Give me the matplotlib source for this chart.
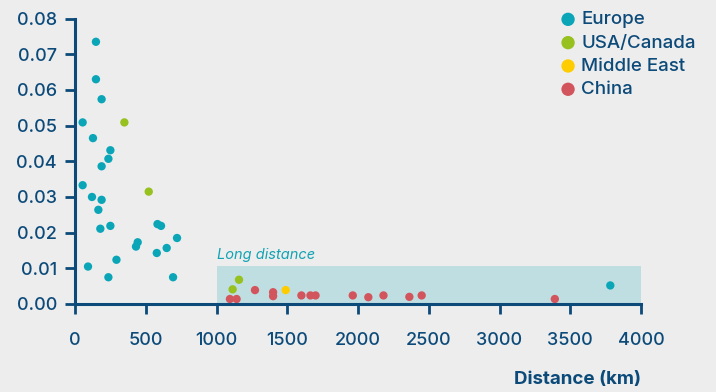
import matplotlib
matplotlib.use("Agg")
import matplotlib.pyplot as plt
from matplotlib.patches import Rectangle

plt.rcParams['font.family'] = ['Inter', 'DejaVu Sans']

europe_x = [148, 148, 188, 54, 127, 250, 236, 188, 54, 120, 188, 165, 179, 250, 583, 608,
            721, 443, 431, 648, 578, 293, 92, 236, 693, 3783]
europe_y = [0.0735, 0.0630, 0.0574, 0.0509, 0.0465, 0.0431, 0.0407, 0.0386, 0.0333, 0.0300,
            0.0292, 0.0264, 0.0211, 0.0219, 0.0224, 0.0219, 0.0185, 0.0173, 0.0161, 0.0157,
            0.0143, 0.0124, 0.0105, 0.0075, 0.0075, 0.0052]
usa_x = [349, 521, 1159, 1114]
usa_y = [0.0509, 0.0315, 0.0068, 0.0041]
me_x = [1489]
me_y = [0.0039]
china_x = [1095, 1142, 1272, 1400, 1400, 1600, 1664, 1700, 1963, 2073, 2180, 2363, 2450, 3391]
china_y = [0.0014, 0.0014, 0.0039, 0.0033, 0.0022, 0.0024, 0.0024, 0.0024, 0.0024, 0.0019,
           0.0024, 0.0020, 0.0024, 0.0014]

xticks = [0, 500, 1000, 1500, 2000, 2500, 3000, 3500, 4000]
yticks = [0.00, 0.01, 0.02, 0.03, 0.04, 0.05, 0.06, 0.07, 0.08]
long_box = (1000, 4000, 0.0107)

navy = '#0C4A79'
bg = '#EDEDED'
c_eu, c_us, c_me, c_cn = '#0AA6B8', '#96C11F', '#FFCC00', '#D2555E'

fig = plt.figure(figsize=(7.16, 3.92), dpi=100, facecolor=bg)
ax = fig.add_axes([75/716, 88/392, 566/716, (304-18.6)/392])
ax.set_facecolor(bg)

ax.add_patch(Rectangle((long_box[0], 0), long_box[1]-long_box[0], long_box[2],
                       facecolor='#BFDEE2', edgecolor='none', zorder=1))
ax.text(long_box[0], long_box[2] + 0.0012, 'Long distance', color='#12A3B3',
        fontstyle='italic', fontsize=10.5, ha='left', va='bottom', zorder=2)

s = 36
ax.scatter(europe_x, europe_y, s=s, color=c_eu, edgecolors='none', label='Europe', zorder=3)
ax.scatter(usa_x, usa_y, s=s, color=c_us, edgecolors='none', label='USA/Canada', zorder=3)
ax.scatter(me_x, me_y, s=s, color=c_me, edgecolors='none', label='Middle East', zorder=3)
ax.scatter(china_x, china_y, s=s, color=c_cn, edgecolors='none', label='China', zorder=3)

ax.set_xlim(0, 4000)
ax.set_ylim(0, 0.08)
ax.set_xticks(xticks)
ax.set_yticks(yticks)
ax.set_yticklabels([f'{v:.2f}' for v in yticks])
for sp in ['top', 'right']:
    ax.spines[sp].set_visible(False)
for sp in ['left', 'bottom']:
    ax.spines[sp].set_color(navy)
    ax.spines[sp].set_linewidth(2.2)
    ax.spines[sp].set_zorder(4)
ax.tick_params(axis='both', colors=navy, labelcolor=navy, width=2, length=7, labelsize=13)
ax.tick_params(axis='x', pad=13)
ax.tick_params(axis='y', pad=6)
for lbl in ax.get_xticklabels() + ax.get_yticklabels():
    lbl.set_fontweight('medium')

ax.set_xlabel('Distance (km)', color=navy, fontsize=13.5, fontweight='bold', loc='right', labelpad=16)

leg = ax.legend(loc='upper left', bbox_to_anchor=(0.838, 1.059), frameon=False, fontsize=13.5,
                labelcolor=navy, handletextpad=0.2, labelspacing=0.33, borderpad=0,
                handlelength=1.0, markerscale=1.6)
for t in leg.get_texts():
    t.set_fontweight('medium')

fig.savefig('out.png', dpi=100, facecolor=bg)
